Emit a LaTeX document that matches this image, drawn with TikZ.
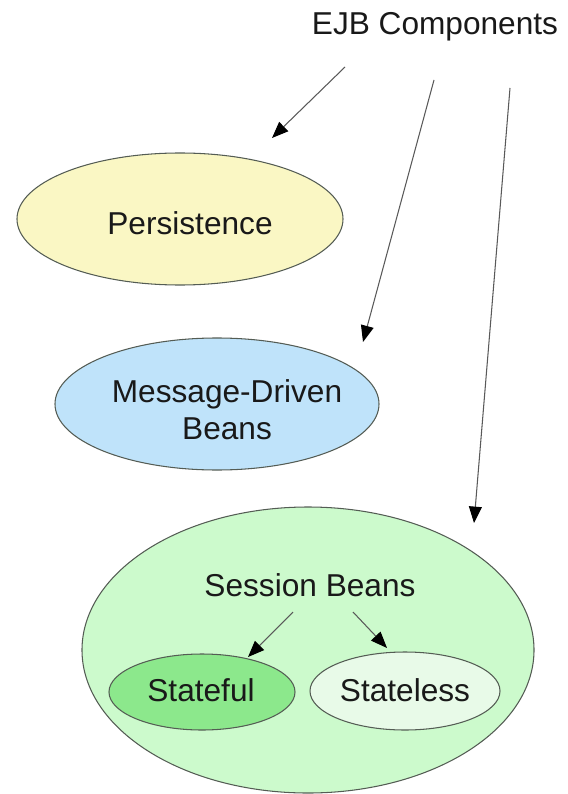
\documentclass[tikz,border=0pt]{standalone}
\usepackage{fontspec}
\setmainfont{Liberation Sans}
\usetikzlibrary{shapes.geometric,arrows.meta}
\begin{document}
\begin{tikzpicture}[x=0.03cm,y=-0.03cm]
\tikzset{bean/.style    = {shape      = ellipse,
                           draw       = edge,
                           line width = 0.9pt,
                           inner sep  = 0pt},
         txt/.style     = {text       = black!90,
                           font       = \fontsize{27}{31.5}\selectfont,
                           align      = center,
                           inner sep  = 2pt},
         pointer/.style = {draw       = black!65,
                           line width = 0.9pt,
                           -{Triangle[length=14pt,width=11pt,black]}}}
\definecolor{edge}{rgb}{0.33,0.36,0.33}
\definecolor{col1}{rgb}{0.98,0.97,0.77}
\definecolor{col2}{rgb}{0.75,0.89,0.98}
\definecolor{col3}{rgb}{0.80,0.98,0.80}
\definecolor{col4}{rgb}{0.55,0.91,0.55}
\definecolor{col5}{rgb}{0.91,0.98,0.91}
\useasboundingbox (0,0) rectangle (567,794);
\coordinate (P1s) at (345,67);
\coordinate (P1e) at (272,138);
\coordinate (P2s) at (434,80);
\coordinate (P2e) at (363,342);
\coordinate (P3s) at (510,88);
\coordinate (P3e) at (474,523);
\coordinate (S1s) at (293,612);
\coordinate (S1e) at (248,657);
\coordinate (S2s) at (353,612);
\coordinate (S2e) at (387,648);
% ellipses
\node[bean,fill=col1,minimum width=9.78cm,minimum height=3.96cm] (pers) at (180,219) {};
\node[bean,fill=col2,minimum width=9.72cm,minimum height=3.96cm] (mdb) at (217,404) {};
\node[bean,fill=col3,minimum width=13.56cm,minimum height=8.58cm] (sess) at (308,650) {};
\node[bean,fill=col4,minimum width=5.58cm,minimum height=2.28cm] (sful) at (202,692) {};
\node[bean,fill=col5,minimum width=5.70cm,minimum height=2.34cm] (sless) at (405,691) {};
% texts
\node[txt] (ejb) at (435,27) {EJB Components};
\node[txt] (perstxt) at (190,223) {Persistence};
\node[txt] (mdbtxt) at (227,410) {Message-Driven\\Beans};
\node[txt] (sbeans) at (310,585) {Session Beans};
\node[txt] (sfultxt) at (201,690) {Stateful};
\node[txt] (slesstxt) at (405,690) {Stateless};
% arrows
\draw[pointer] (P1s) -- (P1e);
\draw[pointer] (P2s) -- (P2e);
\draw[pointer] (P3s) -- (P3e);
\draw[pointer] (S1s) -- (S1e);
\draw[pointer] (S2s) -- (S2e);
\end{tikzpicture}
\end{document}
